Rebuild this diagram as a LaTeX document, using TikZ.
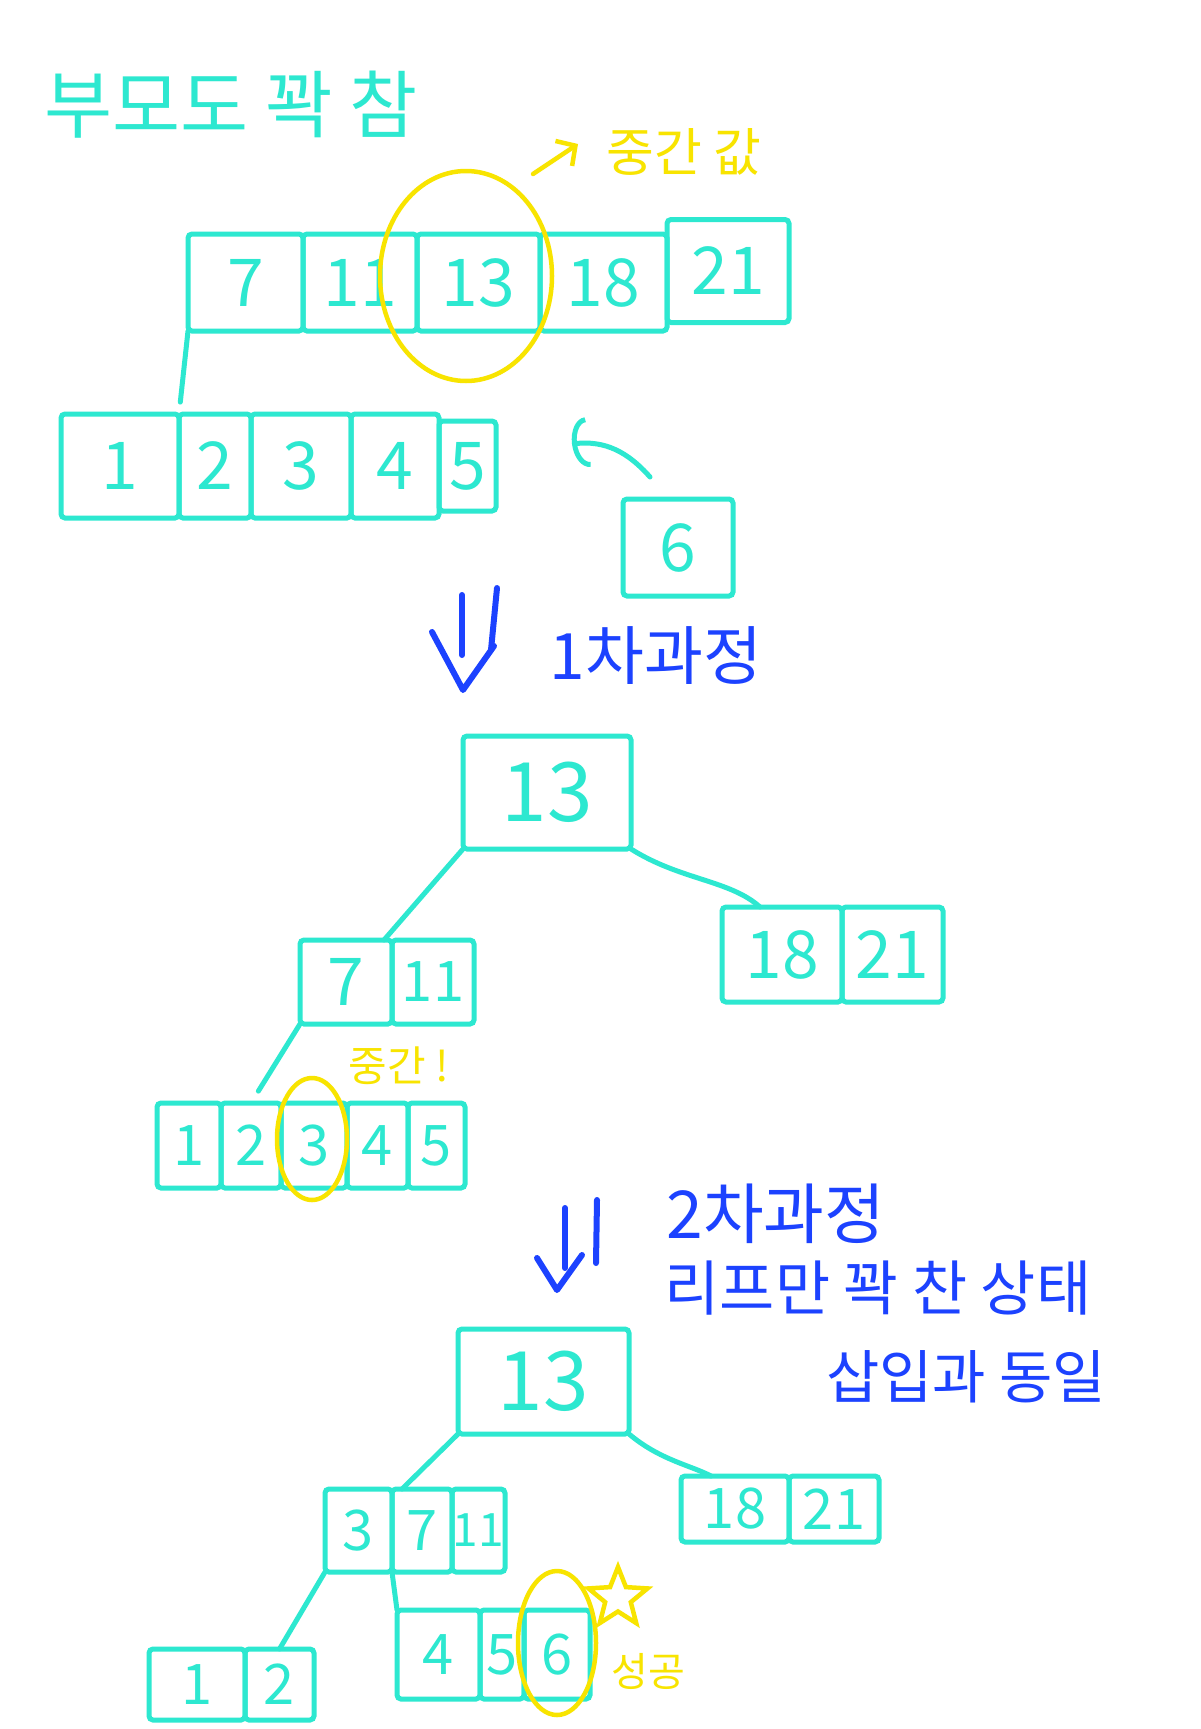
\documentclass[tikz,border=0pt]{standalone}
\usepackage{fontspec}
\setmainfont{Noto Sans CJK KR}
\usetikzlibrary{shapes.geometric,arrows.meta,calc}
\definecolor{cy}{RGB}{45,232,208}
\definecolor{yl}{RGB}{248,228,0}
\definecolor{bl}{RGB}{28,66,255}
\tikzset{
  cell/.style={draw=cy, line width=5pt, rounded corners=4pt, inner sep=0pt, outer sep=0pt, text=cy},
  fbig/.style={font=\fontsize{82pt}{82pt}\selectfont},
  fmid/.style={font=\fontsize{66pt}{66pt}\selectfont},
  fsml/.style={font=\fontsize{56pt}{56pt}\selectfont},
  ftny/.style={font=\fontsize{46pt}{46pt}\selectfont},
  link/.style={draw=cy, line width=5pt, line cap=round},
  ring/.style={draw=yl, line width=4.5pt, ellipse, inner sep=0pt},
  ylab/.style={text=yl, inner sep=0pt},
  blab/.style={text=bl, inner sep=0pt},
  clab/.style={text=cy, inner sep=0pt},
  barrow/.style={draw=bl, line width=6pt, line cap=round, line join=round},
}
\begin{document}
\begin{tikzpicture}[x=1pt,y=-1pt]
\useasboundingbox[fill=white] (0,0) rectangle (1200,1729);

% title
\node[clab, font=\fontsize{74pt}{74pt}\selectfont] (title) at (231,105) {부모도 꽉 참};

% top array
\node[cell,fmid,minimum width=115pt,minimum height=97pt] (a7)  at (245.5,282.5) {7};
\node[cell,fmid,minimum width=114pt,minimum height=97pt] (a11) at (360,282.5) {11};
\node[cell,fmid,minimum width=123pt,minimum height=97pt] (a13) at (478.5,282.5) {13};
\node[cell,fmid,minimum width=127pt,minimum height=97pt] (a18) at (603.5,282.5) {18};
\node[cell,fmid,minimum width=122pt,minimum height=103pt] (a21) at (728,271) {21};
\node[ring,minimum width=172pt,minimum height=210pt] (e1) at (466,276) {};
\coordinate (ys) at (533,174);
\coordinate (yt) at (578,144);
\draw[draw=yl,line width=4.5pt,line cap=round,-{Straight Barb[length=14pt,width=30pt]}] (ys) -- (yt);
\node[ylab,font=\fontsize{52pt}{52pt}\selectfont] (mid1) at (684,152) {중간 값};

% left array
\node[cell,fmid,minimum width=118pt,minimum height=104pt] (b1) at (120,466) {1};
\node[cell,fmid,minimum width=72pt,minimum height=104pt] (b2) at (215,466) {2};
\node[cell,fmid,minimum width=100pt,minimum height=104pt] (b3) at (301,466) {3};
\node[cell,fmid,minimum width=88pt,minimum height=104pt] (b4) at (395,466) {4};
\node[cell,fmid,minimum width=57pt,minimum height=90pt] (b5) at (467.5,466) {5};
\draw[link,shorten >=12pt] (a7.south west) -- (b1.north east);

% new key 6
\node[cell,fmid,minimum width=110pt,minimum height=97pt] (k6) at (678,547.5) {6};
\coordinate (cs) at (650,477);
\coordinate (ct) at (572,444);
\draw[link,-{Arc Barb[length=16pt,width=50pt]}] (cs) .. controls (628,452) and (605,440) .. (ct);

% arrow 1
\coordinate (d1a) at (462,595); \coordinate (d1b) at (462,655);
\coordinate (d1c) at (497,588); \coordinate (d1d) at (491,650);
\coordinate (d1e) at (432,632); \coordinate (d1f) at (463,690); \coordinate (d1g) at (494,646);
\draw[barrow] (d1a) -- (d1b);
\draw[barrow] (d1c) -- (d1d);
\draw[barrow] (d1e) -- (d1f) -- (d1g);
\node[blab,font=\fontsize{64pt}{64pt}\selectfont] (step1) at (656,656) {1차과정};

% second tree
\node[cell,fbig,minimum width=168pt,minimum height=113pt] (r2) at (547,792.5) {13};
\node[cell,fmid,minimum width=92pt,minimum height=84pt] (n7) at (346,982) {7};
\node[cell,fsml,minimum width=82pt,minimum height=84pt] (n11) at (433,982) {11};
\node[cell,fmid,minimum width=120pt,minimum height=95pt] (n18) at (782,954.5) {18};
\node[cell,fmid,minimum width=101pt,minimum height=95pt] (n21) at (892.5,954.5) {21};
\draw[link] (r2.south west) -- ([xshift=-8pt]n7.north east);
\draw[link] (r2.south east) .. controls (680,880) and (730,880) .. ([xshift=38pt]n18.north west);

\node[cell,fsml,minimum width=64pt,minimum height=85pt] (m1) at (189,1145.5) {1};
\node[cell,fsml,minimum width=60pt,minimum height=85pt] (m2) at (251,1145.5) {2};
\node[cell,fsml,minimum width=66pt,minimum height=85pt] (m3) at (314,1145.5) {3};
\node[cell,fsml,minimum width=61pt,minimum height=85pt] (m4) at (377.5,1145.5) {4};
\node[cell,fsml,minimum width=57pt,minimum height=85pt] (m5) at (436.5,1145.5) {5};
\draw[link,shorten >=14pt] (n7.south west) -- (m2.north);
\node[ring,minimum width=70pt,minimum height=122pt] (e2) at (312,1139) {};
\node[ylab,font=\fontsize{42pt}{42pt}\selectfont] (mid2) at (399,1066) {중간 !};

% arrow 2
\coordinate (d2a) at (565,1208); \coordinate (d2b) at (565,1268);
\coordinate (d2c) at (597,1200); \coordinate (d2d) at (596,1263);
\coordinate (d2e) at (537,1258); \coordinate (d2f) at (557,1290); \coordinate (d2g) at (582,1255);
\draw[barrow] (d2a) -- (d2b);
\draw[barrow] (d2c) -- (d2d);
\draw[barrow] (d2e) -- (d2f) -- (d2g);
\node[blab,font=\fontsize{66pt}{66pt}\selectfont] (step2) at (776,1214) {2차과정};
\node[blab,font=\fontsize{60pt}{60pt}\selectfont] (note1) at (878,1288) {리프만 꽉 찬 상태};
\node[blab,font=\fontsize{58pt}{58pt}\selectfont] (note2) at (966,1377) {삽입과 동일};

% third tree
\node[cell,fbig,minimum width=171pt,minimum height=105pt] (r3) at (543.5,1381.5) {13};
\node[cell,fsml,minimum width=67pt,minimum height=83pt] (p3) at (358.5,1530.5) {3};
\node[cell,fsml,minimum width=60pt,minimum height=83pt] (p7) at (422,1530.5) {7};
\node[cell,ftny,minimum width=53pt,minimum height=83pt] (p11) at (478.5,1530.5) {11};
\node[cell,fsml,minimum width=108pt,minimum height=66pt] (q18) at (735,1509) {18};
\node[cell,fsml,minimum width=90pt,minimum height=66pt] (q21) at (834,1509) {21};
\draw[link] (r3.south west) -- ([xshift=10pt]p7.north west);
\draw[link] (r3.south east) .. controls (660,1460) and (690,1465) .. ([xshift=30pt]q18.north west);

\node[cell,fsml,minimum width=96pt,minimum height=71pt] (s1) at (197,1684.5) {1};
\node[cell,fsml,minimum width=69pt,minimum height=71pt] (s2) at (279.5,1684.5) {2};
\node[cell,fsml,minimum width=83pt,minimum height=89pt] (t4) at (438.5,1654.5) {4};
\node[cell,fsml,minimum width=44pt,minimum height=89pt] (t5) at (502,1654.5) {5};
\node[cell,fsml,minimum width=66pt,minimum height=89pt] (t6) at (557,1654.5) {6};
\draw[link] (p3.south west) -- (s2.north);
\draw[link] (p7.south west) -- (t4.north west);
\node[ring,minimum width=78pt,minimum height=144pt] (e3) at (557,1643) {};
\node[star,star points=5,star point ratio=2.3,draw=yl,line width=4.5pt,minimum size=62pt,inner sep=0pt] (st) at (618,1598) {};
\node[ylab,font=\fontsize{40pt}{40pt}\selectfont] (ok) at (648,1671) {성공};
\end{tikzpicture}
\end{document}
